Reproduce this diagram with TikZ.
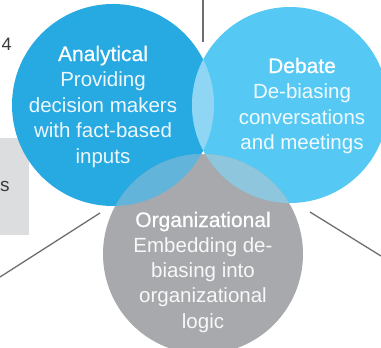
\documentclass[tikz,border=0pt]{standalone}
\usepackage{fontspec}
\setmainfont{Liberation Sans}
\newfontfamily\titlefont{Liberation Sans}[FakeBold=0.6]
\definecolor{colA}{HTML}{27A9E1}
\definecolor{colD}{HTML}{55C9F4}
\definecolor{colAD}{HTML}{8FD6F4}
\definecolor{colO}{HTML}{A7A9AC}
\definecolor{colAO}{HTML}{62B4DA}
\definecolor{colDO}{HTML}{8EC6DD}
\definecolor{spoke}{HTML}{6D6E71}
\definecolor{boxgray}{HTML}{DCDDDE}
\definecolor{sidetext}{HTML}{3A3A3A}
\tikzset{
  titletext/.style={text=white, inner sep=0pt, anchor=base, font=\titlefont\fontsize{21}{25}\selectfont},
  bodytext/.style={text=white, text opacity=0.92, inner sep=0pt, anchor=base, font=\fontsize{20.5}{25}\selectfont},
  sidelabel/.style={text=sidetext, inner sep=0pt, anchor=base west, font=\fontsize{18}{22}\selectfont},
  spokeline/.style={draw=spoke, line width=1.3pt},
}
\begin{document}
\begin{tikzpicture}[x=1pt, y=-1pt]
\useasboundingbox (0,0) rectangle (381,348);
\clip (0,0) rectangle (381,348);
% side box and labels
\fill[boxgray] (0,138) rectangle (29,235);
\node[sidelabel] (four) at (1.5,50) {4};
\node[sidelabel, font=\fontsize{19}{22}\selectfont] (ess) at (0,191) {s};
% spokes
\coordinate (topend) at (203,0);
\coordinate (topstart) at (203,42);
\coordinate (lstart) at (100,213);
\coordinate (lend) at (0,277);
\coordinate (rstart) at (310,212);
\coordinate (rend) at (381,256);
\draw[spokeline] (topend) -- (topstart);
\draw[spokeline] (lstart) -- (lend);
\draw[spokeline] (rstart) -- (rend);
% circles
\coordinate (cA) at (113,105);
\coordinate (cD) at (290,105);
\coordinate (cO) at (203,254);
\def\circA{(cA) circle[radius=101pt]}
\def\circD{(cD) circle[radius=98pt]}
\def\circO{(cO) circle[radius=100pt]}
\fill[colA] \circA;
\fill[colD] \circD;
\begin{scope}
  \clip \circA;
  \fill[colAD] \circD;
\end{scope}
\fill[colO] \circO;
\begin{scope}
  \clip \circO;
  \fill[colAO] \circA;
  \fill[colDO] \circD;
\end{scope}
\fill[white] (203,153.5) circle[radius=1.2pt];
% texts
\node[titletext] (atitle) at (103,61) {Analytical};
\foreach \t [count=\i] in {Providing,decision makers,with fact-based,inputs}
  \node[bodytext] (a\i) at (103,61+25.5*\i) {\t};
\node[titletext] (dtitle) at (302,73) {Debate};
\foreach \t [count=\i] in {De-biasing,conversations,and meetings}
  \node[bodytext] (d\i) at (302,73+25.5*\i) {\t};
\node[titletext] (otitle) at (203,227) {Organizational};
\foreach \t [count=\i] in {Embedding de-,biasing into,organizational,logic}
  \node[bodytext] (o\i) at (203,227+25.3*\i) {\t};
\end{tikzpicture}
\end{document}
